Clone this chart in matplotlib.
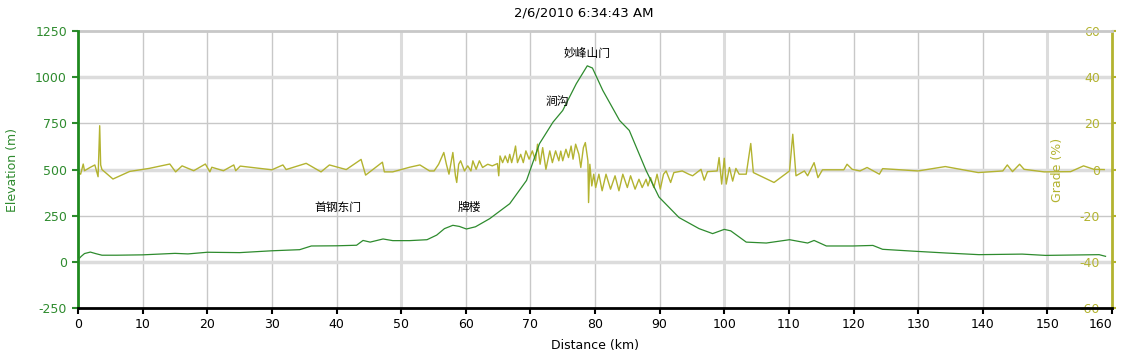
import matplotlib as mpl
import matplotlib.pyplot as plt

mpl.rcParams.update({
    "font.family": ["DejaVu Sans", "Noto Sans CJK SC"],
    "font.size": 9,
    "axes.unicode_minus": False,
})

# elevation profile (km, m)
elev_km = [0, 0.5, 1.0, 1.9, 2.8, 3.7, 6, 10, 15, 17, 20, 25, 30, 34.3, 36.1, 40,
           43.1, 44.1, 45.2, 47.2, 48.7, 51.3, 54, 55.5, 56.7, 58, 59, 60.1, 61.5,
           63.7, 66.8, 69.4, 71.4, 73.5, 75, 77.1, 78.8, 79.6, 81.2, 83.8, 85.3,
           87.9, 89.9, 93, 96.1, 98.2, 100, 101, 103.4, 106.5, 110.1, 112.9, 113.9,
           115.8, 119.9, 123, 124.5, 129.2, 134.3, 139.4, 146.1, 149.7, 158, 159]
elev_m = [12, 30, 45, 53, 44, 36, 36, 38, 46, 43, 52, 50, 60, 66, 86, 87,
          90, 116, 107, 124, 115, 115, 120, 145, 180, 198, 192, 178, 190,
          234, 315, 441, 640, 757, 820, 965, 1062, 1050, 929, 766, 712,
          495, 351, 240, 180, 153, 176, 168, 107, 102, 120, 102, 116,
          86, 86, 89, 68, 58, 48, 39, 42, 35, 39, 30]

# grade (km, %)
grade_km = [0, 0.4, 0.8, 1.0, 1.85, 2.6, 3.1, 3.35, 3.5, 3.7, 5.4, 8, 11, 14.2, 15.1,
            16.1, 17.9, 19.7, 20.4, 20.7, 22.5, 24.1, 24.4, 25.1, 30, 31.7, 32.2,
            35.3, 37.6, 38.9, 41.5, 43.8, 44.5, 47.1, 47.4, 48.7, 51.3, 52.9, 54.4,
            55.1, 55.8, 56.6, 57.0, 57.4, 58.0, 58.4, 58.6, 58.9, 59.2, 59.8, 60.3,
            60.8, 61.1, 61.6, 62.1, 62.6, 63.4, 64.1, 64.9, 65.1, 65.3, 65.7, 66.1,
            66.5, 66.8, 67.1, 67.5, 67.7, 68.0, 68.5, 68.9, 69.3, 69.8, 70.3, 70.8,
            71.1, 71.5, 71.9, 72.4, 73.0, 73.4, 73.9, 74.4, 74.7, 75.0, 75.5, 75.9,
            76.3, 76.6, 77.0, 77.5, 77.8, 78.2, 78.5, 78.9, 79.0, 79.2, 79.5, 79.8,
            80.1, 80.6, 81.1, 81.7, 82.4, 83.1, 83.7, 84.3, 85.0, 85.5, 86.2, 86.8,
            87.3, 87.9, 88.2, 88.6, 89.1, 89.6, 90.1, 90.6, 91.0, 91.7, 92.2, 93.5,
            94.5, 95.1, 96.4, 96.9, 97.4, 98.9, 99.2, 99.6, 100, 100.3, 100.8, 101.3,
            101.8, 102.3, 103.4, 104.1, 104.5, 107.7, 110.1, 110.6, 111.1, 112.4,
            112.9, 113.9, 114.5, 115.2, 118.5, 119, 119.8, 121, 122.1, 124, 124.5,
            130, 134.2, 139.3, 143.1, 143.8, 144.6, 145.7, 146.4, 149.5, 153.6,
            155.6, 157.2, 158.8]
grade_pct = [-1.3, -2, 2.4, -0.5, 0.9, 2.0, -3.1, 19, 2, 0, -4.1, -0.8, 0.5, 2.4, -1,
             1.6, -0.5, 2.4, -1, 1, -0.5, 2, -0.5, 1.5, -0.1, 2, 0,
             2.7, -1, 2, 0, 4.4, -2.4, 3.2, -1, -1, 1, 2, -0.6,
             -0.6, 2.3, 7.4, 2.3, -2, 7.4, -2.7, -5.6, 2.3, 3.8, -0.6, 1.6,
             -0.6, 3.8, 0.1, 3.8, 0.9, 2.3, 1.6, 2.6, -2.7, 5.9, 3, 5.9,
             3, 6.6, 3, 7.4, 10.2, 3, 6.6, 3, 8.1, 4.5, 8.1, 3.8,
             11, 2.3, 9.5, 0.1, 8.1, 3, 8.1, 3.8, 8, 3.8, 8.8, 5.2,
             10.2, 4.5, 11, 6.6, 0.9, 9.5, 11.7, 3.8, -14.3, 2.3, -7.1, -2,
             -7.8, -2, -9.2, -2, -8.5, -2.7, -9.2, -2, -7.8, -2.7, -8.5, -4.2,
             -7.8, -4.2, -7.1, -3.5, -7.8, -2, -8.5, -2, -0.6, -5.6, -1.3, -0.6,
             -2, -2.7, 0.1, -4.6, -0.9, -0.6, 5.2, -6.3, 4.9, -6.3, 0.9, -5,
             0.5, -2, -2, 11.3, -1.3, -5.6, -0.6, 15.3, -2.7, -0.6,
             -2.7, 3, -3.5, -0.1, -0.1, 2.3, 0.1, -0.6, 0.9, -2, 0.4,
             -0.6, 1.3, -1.3, -0.6, 2, -0.9, 2.3, 0.1, -1, -0.9,
             1.6, 0.1, 0]

# place names (km, m)
places = ["妙峰山门", "涧沟", "牌楼", "首钢东门"]
place_km = [78.7, 74.2, 60.6, 40.2]
place_m = [1131, 869, 297, 295]

x_ticks = list(range(0, 161, 10))
elev_ticks = [-250, 0, 250, 500, 750, 1000, 1250]
grade_ticks = [-60, -40, -20, 0, 20, 40, 60]

GREEN = "#2e8b2e"
OLIVE = "#b3b330"
CJK = ["Noto Sans CJK SC", "DejaVu Sans"]

fig = plt.figure(figsize=(11.23, 3.61), dpi=100)
ax = fig.add_axes([0.0695, 0.1468, 0.9207, 0.767])
ax2 = ax.twinx()
ax.set_zorder(2)
ax2.set_zorder(1)
ax.patch.set_visible(False)

ax.set_xlim(0, 160)
ax.set_ylim(-250, 1250)
ax2.set_ylim(-60, 60)

# grid on the lower axes so the grade line sits over it
for k in x_ticks:
    if k in (0, 160):
        continue
    if k % 50 == 0:
        ax2.axvline(k, color="#dcdcdc", lw=2.2, zorder=0)
    else:
        ax2.axvline(k, color="#c8c8c8", lw=1.0, zorder=0)
for g in grade_ticks[1:-1]:
    if g % 40 == 0:
        ax2.axhline(g, color="#dcdcdc", lw=2.5, zorder=0)
    else:
        ax2.axhline(g, color="#c8c8c8", lw=1.0, zorder=0)

ax2.plot(grade_km, grade_pct, color=OLIVE, lw=1.0, zorder=2)
ax.plot(elev_km, elev_m, color=GREEN, lw=0.9, zorder=3)

for name, k, m in zip(places, place_km, place_m):
    ax.text(k, m, name, ha="center", va="center", fontsize=8.5, family=CJK)

# spines
for a in (ax, ax2):
    a.spines["top"].set_visible(False)
ax.spines["right"].set_visible(False)
ax2.spines["left"].set_visible(False)
ax2.spines["bottom"].set_visible(False)
ax2.spines["top"].set_visible(True)
ax2.spines["top"].set_color("#c8c8c8")
ax2.spines["top"].set_linewidth(2)
ax.spines["left"].set_color("#1f8a1f")
ax.spines["left"].set_linewidth(2)
ax.spines["bottom"].set_color("black")
ax.spines["bottom"].set_linewidth(2)
ax2.spines["right"].set_color(OLIVE)
ax2.spines["right"].set_linewidth(2)

ax.set_xticks(x_ticks)
ax.set_yticks(elev_ticks)
ax2.set_yticks(grade_ticks)
ax.tick_params(axis="x", colors="black", length=4, width=1.5, direction="out", pad=3)
ax.tick_params(axis="y", colors=GREEN, length=4, width=1.5, direction="out", pad=4)
ax2.tick_params(axis="y", colors=OLIVE, length=3, width=1.5, direction="out", pad=-11.5)
for lbl in ax2.get_yticklabels():
    lbl.set_ha("right")
ax.get_xticklabels()[-1].set_ha("right")

ax.set_xlabel("Distance (km)", labelpad=6)
ax.set_ylabel("Elevation (m)", color=GREEN, va="center")
ax.yaxis.set_label_coords(-0.0635, 0.5)
ax2.set_ylabel("Grade (%)", color=OLIVE, va="center")
ax2.yaxis.set_label_coords(0.947, 0.5)

fig.text(0.52, 0.965, "2/6/2010 6:34:43 AM", ha="center", va="center", fontsize=9.5)

fig.savefig("out.png", dpi=100, facecolor="white")
